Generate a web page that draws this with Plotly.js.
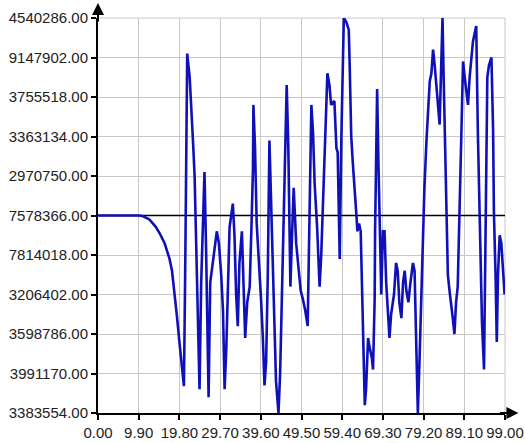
<!DOCTYPE html>
<html>
<head>
<meta charset="utf-8">
<script src="https://cdn.plot.ly/plotly-3.0.1.min.js"></script>
<style>
  html, body { margin: 0; padding: 0; background: #ffffff; }
  #chart { width: 525px; height: 443px; }
</style>
</head>
<body>
<div id="chart"></div>
<script>
// Tick labels exactly as printed on the reference (listed bottom to top)
const yTickLabels = [
  "3383554.00", "3991170.00", "3598786.00", "3206402.00", "7814018.00",
  "7578366.00", "2970750.00", "3363134.00", "3755518.00", "9147902.00", "4540286.00"
];
const yTickLevels = [0, 1, 2, 3, 4, 5, 6, 7, 8, 9, 10];
const xTickValues = [0, 9.9, 19.8, 29.7, 39.6, 49.5, 59.4, 69.3, 79.2, 89.1, 99];
const xTickLabels = ["0.00", "9.90", "19.80", "29.70", "39.60", "49.50", "59.40", "69.30", "79.20", "89.10", "99.00"];
const referenceLevel = 5;

// Series (x position, level on the 0..10 label scale)
const seriesX = [
  0, 2, 4, 6, 8, 10, 11, 12.5, 14, 15, 16.2, 16.8, 17.4, 18.0, 18.6, 19.2, 19.8, 20.4, 20.9,
  21.2, 21.4, 21.7, 22.3, 22.5, 23.1, 23.5, 23.9, 24.3, 24.7,
  25.1, 25.5, 25.9, 26.3, 26.6, 26.9, 27.3, 27.9, 28.4, 28.9, 29.4, 29.97,
  30.4, 30.8, 31.2, 31.6, 32.0, 32.4, 32.8, 33.2, 33.6, 34.0, 34.4, 35.0,
  35.4, 35.8, 36.3, 36.9, 37.3, 37.7, 37.8, 38.2, 38.6, 39.3, 39.7,
  40.1, 40.5, 40.9, 41.3, 41.7, 42.1, 42.5, 42.9, 43.3, 43.9, 44.3, 44.7,
  45.2, 45.5, 45.9, 46.3, 46.6, 46.8, 47.2, 47.6, 48.2, 48.8, 49.3, 49.8,
  50.4, 51.0, 51.5, 51.9, 52.3, 52.7, 53.3, 53.9, 54.3, 54.7, 55.1, 55.5,
  55.8, 56.3, 56.7, 57.5, 58.0, 58.3, 58.5, 58.8, 59.2, 59.6, 59.8,
  60.4, 61.0, 61.2, 61.6, 62.0, 62.4, 62.8, 63.1, 63.5, 63.9, 64.2, 64.4,
  64.9, 65.2, 65.7, 66.0, 66.6, 66.9, 67.3, 67.4, 67.6, 67.9, 68.2, 68.5,
  68.9, 69.3, 69.7, 70.1, 70.5, 70.9, 71.3, 72.0, 72.5, 72.9, 73.3, 73.8,
  74.2, 74.6, 75.0, 75.5, 76.0, 76.6, 77.0, 77.4, 77.8, 78.2, 78.6, 79.0,
  79.4, 79.9, 80.3, 80.7, 81.1, 81.5, 81.9, 82.3, 82.7, 83.1, 83.3, 83.5,
  83.8, 84.1, 84.5, 84.8, 85.1, 85.5, 85.9, 86.3, 86.7, 87.1, 87.5, 87.9,
  88.3, 88.8, 89.2, 89.6, 90.0, 90.4, 90.8, 91.2, 91.6, 92.0, 92.4, 92.7,
  93.0, 93.4, 93.9, 94.2, 94.5, 94.7, 95.1, 95.7, 96.1, 96.3, 96.7, 97.0,
  97.3, 97.7, 98.1, 98.5, 98.9
];
const seriesY = [
  5, 5, 5, 5, 5, 5, 4.98, 4.9, 4.72, 4.55, 4.3, 4.12, 3.9, 3.6, 3.1, 2.45, 1.8, 1.2, 0.68,
  3.5, 6.2, 9.1, 8.5, 8.0, 6.9, 6.0, 4.1, 3.0, 0.6,
  3.3, 4.7, 6.1, 4.1, 2.3, 0.4, 3.3, 3.8, 4.2, 4.6, 4.3, 3.5,
  2.6, 0.6, 1.6, 3.3, 4.7, 5.0, 5.3, 4.5, 3.0, 2.2, 3.8, 4.6,
  3.0, 1.9, 2.8, 3.2, 4.6, 6.2, 7.8, 6.7, 4.8, 3.6, 2.8,
  1.9, 0.7, 1.3, 3.5, 6.9, 5.3, 3.8, 2.3, 0.8, 0.0, 1.0, 2.8,
  5.0, 7.0, 8.3, 6.7, 5.0, 3.2, 4.5, 5.7, 4.3, 3.6, 3.1, 2.9,
  2.6, 2.2, 5.9, 7.8, 7.1, 5.8, 4.7, 3.2, 4.0, 5.1, 6.6, 7.6,
  8.6, 8.3, 7.8, 7.9, 6.7, 6.6, 5.3, 3.9, 7.0, 8.7, 10.0,
  9.9, 9.7, 8.9, 7.0, 6.3, 5.8, 5.1, 4.6, 4.8, 4.6, 3.3, 1.8,
  0.2, 0.6, 1.9, 1.7, 1.4, 1.1, 2.9, 4.6, 6.5, 8.2, 6.4, 4.7,
  3.0, 4.6, 4.6, 3.3, 2.5, 1.9, 2.5, 3.0, 3.8, 3.6, 2.8, 2.4,
  3.3, 3.6, 3.1, 2.8, 3.3, 3.8, 3.6, 1.3, 0.0, 1.3, 2.8, 4.3,
  5.7, 6.9, 7.7, 8.4, 8.6, 9.2, 8.8, 8.3, 7.8, 7.3, 8.1, 9.0,
  10.0, 8.4, 6.7, 5.0, 3.5, 3.1, 2.8, 2.4, 2.0, 2.8, 3.2, 5.1,
  7.0, 8.9, 8.5, 8.1, 7.8, 8.5, 9.0, 9.4, 9.6, 9.8, 7.1, 5.8,
  4.6, 2.3, 1.1, 3.5, 5.5, 8.5, 8.8, 9.0, 7.2, 5.1, 3.5, 1.8,
  3.5, 4.5, 4.3, 3.7, 3.0
];

const trace = {
  type: 'scatter',
  mode: 'lines',
  x: seriesX,
  y: seriesY,
  line: { color: '#1010b8', width: 2.6 },
  hoverinfo: 'skip'
};

const layout = {
  width: 525,
  height: 443,
  margin: { l: 98, r: 20, t: 18, b: 30, pad: 0 },
  paper_bgcolor: '#ffffff',
  plot_bgcolor: '#ffffff',
  showlegend: false,
  font: { family: 'Liberation Sans, Arial, sans-serif', size: 15, color: '#222222' },
  xaxis: {
    range: [0, 99],
    tickmode: 'array',
    tickvals: xTickValues,
    ticktext: xTickLabels,
    showgrid: true,
    gridcolor: '#c8c8c8',
    gridwidth: 1,
    zeroline: false,
    showline: true,
    linecolor: '#000000',
    linewidth: 2,
    ticks: 'outside',
    ticklen: 5,
    tickwidth: 2,
    tickcolor: '#000000',
    tickfont: { size: 15, color: '#222222' },
    fixedrange: true
  },
  yaxis: {
    range: [0, 10],
    tickmode: 'array',
    tickvals: yTickLevels,
    ticktext: yTickLabels,
    showgrid: true,
    gridcolor: '#c8c8c8',
    gridwidth: 1,
    zeroline: false,
    showline: true,
    linecolor: '#000000',
    linewidth: 2,
    ticks: 'outside',
    ticklen: 5,
    tickwidth: 2,
    tickcolor: '#000000',
    tickfont: { size: 15, color: '#222222' },
    fixedrange: true
  },
  shapes: [
    { type: 'line', xref: 'x', yref: 'y', x0: 0, x1: 99, y0: referenceLevel, y1: referenceLevel,
      line: { color: '#000000', width: 1.5 }, layer: 'between' },
    { type: 'line', xref: 'paper', yref: 'paper', x0: 1, x1: 1, y0: 0, y1: 1,
      line: { color: '#c8c8c8', width: 1 }, layer: 'below' },
    { type: 'line', xref: 'paper', yref: 'paper', x0: 0, x1: 1, y0: 1, y1: 1,
      line: { color: '#c8c8c8', width: 1 }, layer: 'below' }
  ],
  annotations: [
    { xref: 'paper', yref: 'paper', x: 0, y: 1.038, ax: 0, ay: 20, text: '',
      showarrow: true, arrowhead: 2, arrowsize: 1.2, arrowwidth: 2, arrowcolor: '#000000' },
    { xref: 'paper', yref: 'paper', x: 1.033, y: 0, ax: -20, ay: 0, text: '',
      showarrow: true, arrowhead: 2, arrowsize: 1.2, arrowwidth: 2, arrowcolor: '#000000' }
  ]
};

Plotly.newPlot('chart', [trace], layout, { displayModeBar: false, staticPlot: true });
</script>
</body>
</html>
